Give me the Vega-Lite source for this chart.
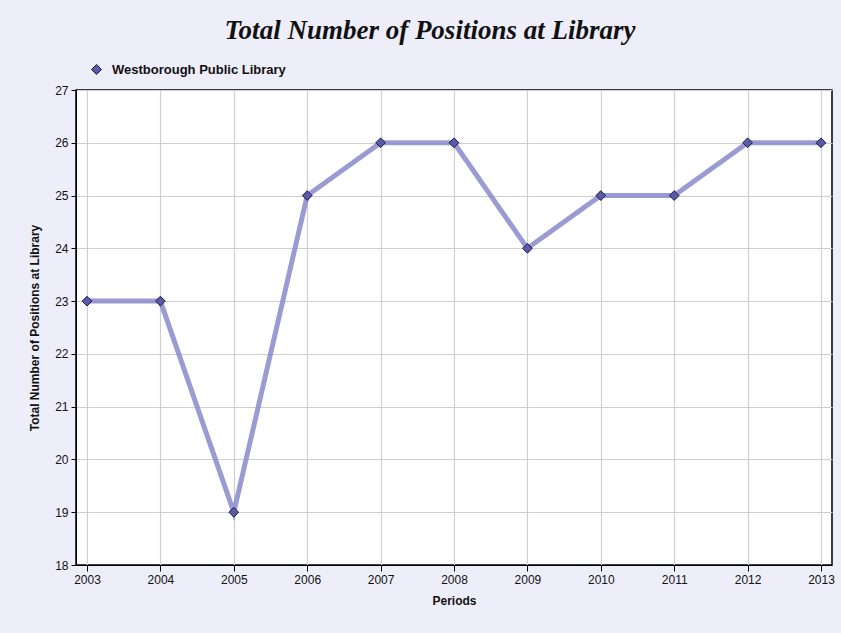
{
  "$schema": "https://vega.github.io/schema/vega-lite/v6.json",
  "autosize": {"type": "none"},
  "width": 756,
  "height": 475,
  "padding": {"left": 76, "top": 90, "right": 9, "bottom": 68},
  "background": "#eeeefa",
  "title": {
    "text": "Total Number of Positions at Library",
    "font": "Liberation Serif",
    "fontSize": 27,
    "fontStyle": "italic",
    "fontWeight": "bold",
    "color": "#111111",
    "anchor": "middle",
    "dx": -24,
    "offset": 18
  },
  "config": {
    "view": {"stroke": "#000000", "strokeWidth": 1.5, "fill": "#ffffff"},
    "axis": {
      "labelFont": "Liberation Sans",
      "labelFontSize": 12,
      "labelColor": "#111111",
      "titleFont": "Liberation Sans",
      "titleFontSize": 12,
      "titleFontWeight": "bold",
      "titleColor": "#111111",
      "domainColor": "#000000",
      "tickColor": "#000000",
      "gridColor": "#cfcfcf",
      "gridWidth": 1.2
    }
  },
  "data": {
    "values": [
      {"Period": "2003", "Positions": 23, "Library": "Westborough Public Library"},
      {"Period": "2004", "Positions": 23, "Library": "Westborough Public Library"},
      {"Period": "2005", "Positions": 19, "Library": "Westborough Public Library"},
      {"Period": "2006", "Positions": 25, "Library": "Westborough Public Library"},
      {"Period": "2007", "Positions": 26, "Library": "Westborough Public Library"},
      {"Period": "2008", "Positions": 26, "Library": "Westborough Public Library"},
      {"Period": "2009", "Positions": 24, "Library": "Westborough Public Library"},
      {"Period": "2010", "Positions": 25, "Library": "Westborough Public Library"},
      {"Period": "2011", "Positions": 25, "Library": "Westborough Public Library"},
      {"Period": "2012", "Positions": 26, "Library": "Westborough Public Library"},
      {"Period": "2013", "Positions": 26, "Library": "Westborough Public Library"}
    ]
  },
  "encoding": {
    "x": {
      "field": "Period",
      "type": "ordinal",
      "scale": {"type": "point", "padding": 0.15},
      "axis": {"title": "Periods", "labelAngle": 0, "grid": true, "titlePadding": 10, "labelPadding": 3, "tickSize": 6}
    },
    "y": {
      "field": "Positions",
      "type": "quantitative",
      "scale": {"domain": [18, 27], "nice": false, "zero": false},
      "axis": {"title": "Total Number of Positions at Library", "values": [18,19,20,21,22,23,24,25,26,27], "labelOverlap": false, "titlePadding": 13, "tickSize": 5, "labelPadding": 3}
    }
  },
  "layer": [
    {
      "mark": {"type": "line", "color": "#8a8acc", "strokeWidth": 5, "opacity": 0.85}
    },
    {
      "mark": {"type": "point", "shape": "diamond", "filled": true, "size": 95, "fill": "#5a5aa8", "stroke": "#1a1a40", "strokeWidth": 1, "opacity": 1},
      "encoding": {
        "color": {
          "field": "Library",
          "type": "nominal",
          "scale": {"range": ["#5a5aa8"]},
          "legend": {
            "title": null,
            "orient": "none",
            "legendX": 14,
            "legendY": -27,
            "labelFont": "Liberation Sans",
            "labelFontSize": 13,
            "labelFontWeight": "bold",
            "labelColor": "#111111",
            "labelLimit": 400,
            "labelOffset": 9,
            "symbolType": "diamond",
            "symbolSize": 100,
            "symbolStrokeColor": "#1a1a40",
            "symbolStrokeWidth": 1,
            "symbolFillColor": "#5a5aa8"
          }
        }
      }
    }
  ]
}
